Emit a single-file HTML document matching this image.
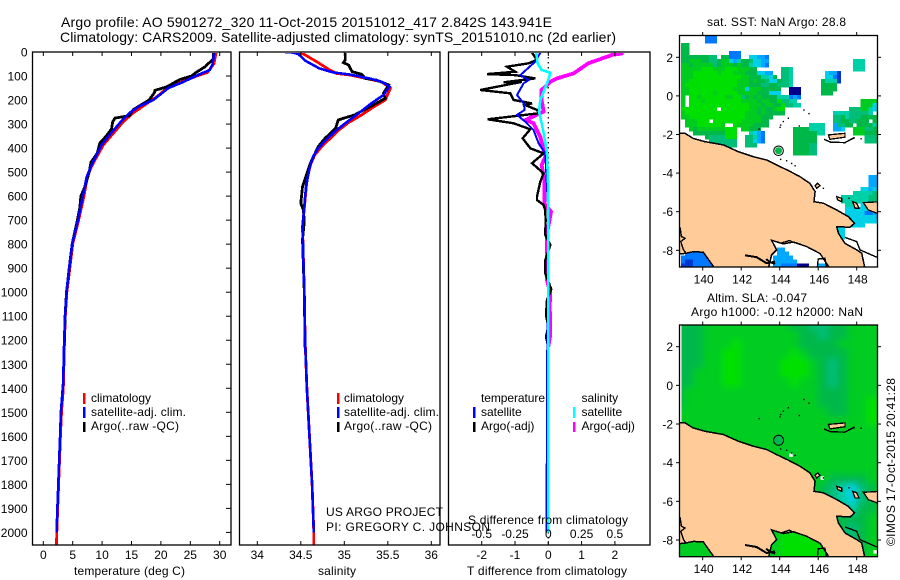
<!DOCTYPE html>
<html>
<head>
<meta charset="utf-8">
<title>Argo profile</title>
<style>
html,body{margin:0;padding:0;background:#fff;}
svg{display:block;}
text{font-family:"Liberation Sans",sans-serif;font-size:12px;fill:#000;}
</style>
</head>
<body>
<svg id="fig" xmlns="http://www.w3.org/2000/svg" width="900" height="580" viewBox="0 0 900 580">
  <defs>
    <clipPath id="clipTemp"><rect x="33" y="53" width="198" height="492"/></clipPath>
    <clipPath id="clipSal"><rect x="240" y="53" width="200" height="492"/></clipPath>
    <clipPath id="clipDiff"><rect x="449" y="53" width="201" height="492"/></clipPath>
    <clipPath id="clipMap1"><rect x="679.5" y="35.5" width="198" height="231.5"/></clipPath>
    <clipPath id="clipMap2"><rect x="679.5" y="325" width="198" height="231.5"/></clipPath>
    <filter id="slaBlur" x="-5%" y="-5%" width="110%" height="110%"><feGaussianBlur stdDeviation="3.5"/></filter>
  </defs>
  <rect x="0" y="0" width="900" height="580" fill="#fff"/>
  <text x="61" y="27" font-size="14" style="font-size:14px" textLength="491" lengthAdjust="spacing">Argo profile: AO 5901272_320 11-Oct-2015 20151012_417 2.842S 143.941E</text>
  <text x="60" y="42" font-size="14" style="font-size:14px" textLength="556" lengthAdjust="spacing">Climatology: CARS2009. Satellite-adjusted climatology: synTS_20151010.nc (2d earlier)</text>
  <g id="panels"></g>
  <text x="74" y="575" textLength="111" lengthAdjust="spacing">temperature (deg C)</text>
  <text x="318" y="575" textLength="38" lengthAdjust="spacing">salinity</text>
  <text x="467" y="575" textLength="160" lengthAdjust="spacing">T difference from climatology</text>
  <text x="468" y="524" textLength="160" lengthAdjust="spacing">S difference from climatology</text>
  <text x="326" y="516" textLength="117" lengthAdjust="spacing">US ARGO PROJECT</text>
  <text x="326" y="531" textLength="164" lengthAdjust="spacing">PI: GREGORY C. JOHNSON</text>

  <g>
    <rect x="83" y="393" width="2.5" height="11" fill="#f00"/>
    <rect x="83" y="407" width="2.5" height="11" fill="#00f"/>
    <rect x="83" y="422" width="2.5" height="10" fill="#000"/>
    <text x="91" y="402">climatology</text>
    <text x="91" y="416" textLength="95" lengthAdjust="spacing">satellite-adj. clim.</text>
    <text x="91" y="430" textLength="88" lengthAdjust="spacing">Argo(..raw -QC)</text>
  </g>
  <g>
    <rect x="337" y="393" width="2.5" height="11" fill="#f00"/>
    <rect x="337" y="407" width="2.5" height="11" fill="#00f"/>
    <rect x="337" y="422" width="2.5" height="10" fill="#000"/>
    <text x="344" y="402">climatology</text>
    <text x="344" y="416" textLength="95" lengthAdjust="spacing">satellite-adj. clim.</text>
    <text x="344" y="430" textLength="88" lengthAdjust="spacing">Argo(..raw -QC)</text>
  </g>
  <g>
    <text x="481" y="402" textLength="64" lengthAdjust="spacing">temperature</text>
    <text x="481" y="416">satellite</text>
    <text x="481" y="430">Argo(-adj)</text>
    <rect x="473" y="407" width="2.5" height="11" fill="#00f"/>
    <rect x="473" y="422" width="2.5" height="10" fill="#000"/>
    <text x="581.5" y="402">salinity</text>
    <text x="581.5" y="416">satellite</text>
    <text x="581.5" y="430">Argo(-adj)</text>
    <rect x="573" y="407" width="2.5" height="11" fill="#0ff"/>
    <rect x="573" y="422" width="2.5" height="10" fill="#f0f"/>
  </g>

  <g id="maps"></g>
  <text x="707" y="26" textLength="139" lengthAdjust="spacing">sat. SST: NaN  Argo: 28.8</text>
  <text x="707" y="302" textLength="100" lengthAdjust="spacing">Altim. SLA: -0.047</text>
  <text x="691" y="316" textLength="172" lengthAdjust="spacing">Argo h1000: -0.12 h2000: NaN</text>
  <text transform="translate(895,546) rotate(-90)" textLength="168" lengthAdjust="spacing">©IMOS 17-Oct-2015 20:41:28</text>
</svg>
<script>
/* ---------- depth profiles ---------- */
var depthTicks = [0,100,200,300,400,500,600,700,800,900,1000,1100,1200,1300,1400,1500,1600,1700,1800,1900,2000];
var tempTicks = [0,5,10,15,20,25,30];
var salTicks = [34,34.5,35,35.5,36];
var salTickLabels = ['34','34.5','35','35.5','36'];
var diffTTicks = [-2,-1,0,1,2];
var diffTTickLabels = ['-2','-1','0','1','2'];
var diffSTicks = [-0.5,-0.25,0,0.25,0.5];
var diffSTickLabels = ['-0.5','-0.25','0','0.25','0.5'];

var tempClimDepth = [0,50,85,100,125,150,175,186,225,253,290,339,387,436,477,519,602,700,800,900,1000,1100,1200,1300,1400,1500,1600,1700,1800,1900,2000,2050];
var tempClimValue = [29.4,29.0,27.9,26.1,23.5,21.0,19.9,19.3,17.0,15.3,13.6,11.9,10.2,9.1,8.2,7.5,6.9,6.0,5.0,4.5,4.0,3.75,3.6,3.5,3.4,3.1,2.9,2.75,2.6,2.45,2.3,2.25];
var tempSatDepth = [0,50,75,100,125,150,175,200,225,253,290,339,387,436,477,519,602,700,800,900,1000,1100,1200,1300,1370,1500,1600,1700,1800,1900,2000];
var tempSatValue = [29.1,28.8,28.3,25.9,23.8,21.3,20.0,18.7,16.4,14.7,13.2,11.5,9.9,8.9,8.1,7.4,6.7,5.9,4.9,4.4,3.95,3.7,3.55,3.45,3.4,3.0,2.85,2.7,2.55,2.4,2.27];
var tempArgoDepth = [0,30,50,60,85,100,115,145,160,170,200,240,265,275,290,320,350,380,420,460,500,560,600,650,700,800,900,1000,1100,1230];
var tempArgoValue = [28.9,28.9,28.0,27.6,26.0,25.2,23.2,21.0,19.0,18.9,18.0,15.3,14.6,12.2,11.8,11.6,10.7,9.6,9.2,8.1,7.8,7.1,6.4,6.2,5.8,4.9,4.4,3.95,3.7,3.55];

var salClimDepth = [0,12,40,72,89,96,114,124,151,200,228,262,294,327,359,394,429,470,533,616,727,1000,1200,1400,1600,1800,2000,2050];
var salClimValue = [34.47,34.55,34.68,34.82,34.91,35.07,35.30,35.43,35.53,35.47,35.34,35.20,35.05,34.93,34.84,34.74,34.66,34.61,34.57,34.55,34.52,34.54,34.55,34.57,34.60,34.63,34.65,34.65];
var salSatDepth = [0,2,8,36,68,85,94,111,124,144,179,214,262,297,332,362,401,436,484,561,644,727,1000,1200,1400,1600,1800,2000];
var salSatValue = [34.32,34.40,34.47,34.55,34.71,34.87,35.07,35.30,35.43,35.52,35.45,35.31,35.14,35.01,34.89,34.80,34.70,34.64,34.60,34.56,34.54,34.52,34.54,34.55,34.57,34.60,34.63,34.65];
var salArgoDepth = [0,33,44,54,82,93,110,117,137,172,193,221,262,276,283,318,359,394,463,505,561,630,658,706,780,1000,1230];
var salArgoValue = [35.01,35.01,34.99,35.05,35.09,35.20,35.24,35.37,35.51,35.45,35.47,35.33,35.12,34.99,34.93,34.90,34.78,34.70,34.61,34.57,34.52,34.50,34.53,34.54,34.52,34.54,34.55];

var diffTArgoDepth = [3,33,47,61,82,92,96,110,126,124,158,172,200,214,221,241,255,280,297,322,359,401,422,463,505,540,602,616,637,658,700,762,803,866,922,988,1032,1095,1144,1185,1230];
var diffTArgoValue = [-0.49,-0.34,-0.59,-1.24,-0.99,-1.84,-0.99,-0.39,-1.34,-0.79,-2.04,-1.14,-1.04,-0.49,-0.69,-0.34,-0.29,-1.82,-1.04,-0.54,-0.77,-0.54,-0.14,-0.49,-0.14,-0.24,-0.34,-0.34,-0.14,-0.09,-0.08,-0.09,0.06,-0.09,-0.09,0.09,-0.04,-0.07,0,-0.07,0];
var diffTSatDepth = [3,40,96,117,130,179,214,241,262,290,325,380,422,505,644,1000,1300,2000];
var diffTSatValue = [-0.24,-0.39,-0.84,-0.59,-0.74,-0.94,-0.74,-0.71,-0.94,-0.69,-0.44,-0.29,-0.09,-0.06,-0.01,0,-0.04,-0.05];
var diffSSatDepth = [3,47,75,86,117,144,200,248,297,352,422,575,1000,2000];
var diffSSatValue = [-0.09,-0.08,-0.05,0.015,0,-0.02,-0.06,-0.07,-0.05,-0.03,-0.01,0,0,0];
var diffSArgoDepth = [5,12,47,89,110,124,158,200,248,283,297,352,408,436,470,533,630,665,727,755,950,1005,1060,1116,1178,1227];
var diffSArgoValue = [0.565,0.48,0.30,0.19,0.065,0.015,-0.05,-0.05,-0.035,-0.17,-0.11,-0.06,-0.035,-0.02,-0.05,-0.03,-0.03,0.02,0,-0.01,-0.01,0.015,0.01,0.015,0.015,0];

/* ---------- map data (lon/lat degrees, colour levels 0-9) ---------- */
var mapLonTicks = [140,142,144,146,148];
var mapLatTicks = [2,0,-2,-4,-6,-8];
var mapLatTickLabels = ['2','0','-2','-4','-6','-8'];
var argoLon = 143.941;
var argoLat = -2.842;

var coastLon = [138.5,138.82,139.08,139.5,140.1,141.07,141.85,142.63,143.32,143.84,144.45,145.05,145.57,145.84,145.78,146.27,146.96,147.57,147.88,147.65,146.96,147.05,147.39,148.0,148.26,148.43,146.61,146.10,145.40,144.71,144.19,143.58,143.84,143.58,143.41,140.64,140.03,139.52,139.08,138.79,138.5];
var coastLat = [-1.94,-1.94,-1.94,-2.2,-2.37,-2.54,-2.89,-3.15,-3.32,-3.58,-3.87,-4.18,-4.53,-4.96,-5.48,-5.56,-5.91,-6.26,-6.6,-6.81,-6.77,-7.12,-7.64,-7.98,-8.15,-8.95,-8.95,-8.17,-7.81,-7.57,-7.67,-7.48,-7.98,-8.24,-8.95,-8.95,-8.10,-8.07,-8.16,-8.19,-8.19];
var islandLons = [[146.53,147.39,147.39,146.61],[145.84,145.97,146.1,145.92],[146.96,147.22,147.22,147.01],[147.79,148,148.12,147.91],[148.35,149.3,149.3,148.6]];
var islandLats = [[-2.02,-1.94,-2.14,-2.25],[-4.65,-4.53,-4.65,-4.79],[-5.22,-5.31,-5.48,-5.39],[-5.48,-5.56,-5.82,-5.82],[-5.53,-5.48,-6.17,-5.91]];
var riverLons = [[142.2,142.8,143.32,143.76],[143.3,143.5,143.76],[138.82,138.9,139.08,138.86,139,139.13],[147.39,148,148.17,149.04],[146.3,146.65,147.39,147.9],[145.95,146.0,146.35,146.45],[144.1,144.5,144.8]];
var riverLats = [[-8.26,-8.36,-8.67,-8.59],[-8.45,-8.62,-8.7],[-6.81,-7.29,-7.38,-7.55,-7.98,-8.15],[-7.33,-7.55,-7.98,-8.36],[-2.25,-2.4,-2.42,-2.15],[-8.95,-8.45,-8.42,-8.95],[-7.62,-7.5,-7.62]];
var speckLon = [145.26,145.52,144.45,144.19,144.05,144.02,145.02,144.62,144.80,144.36,144.05,146.27,147.60,148.23,142.93,147.6,147.85];
var speckLat = [-0.73,-0.92,-1.16,-1.33,-1.51,-1.63,-1.56,-3.50,-3.62,-3.36,-3.29,-4.79,-5.30,-2.22,-1.72,-2.3,-2.2];

var sstGridLon0 = 138.665;
var sstGridLat0 = 3.155;
var sstGridStep = 0.2075;
/* [row, first column, colour level of each successive cell] */
var sstRuns = [
[0,7,"222"],[1,7,"222"],[2,1,"77"],[3,1,"77"],[4,1,"77"],[4,13,"222"],
[5,1,"777777766"],[5,11,"77222"],[5,18,"44332"],
[6,1,"7788877667884357764433"],[6,44,"555"],
[7,1,"8878888867888787754432"],[7,44,"555"],
[8,1,"8888899988899988877"],[8,26,"665"],[8,44,"555"],
[9,1,"8889999998999888777"],[9,20,"4433"],[9,26,"665"],[9,37,"4331"],
[10,1,"8889999999999998877"],[10,20,"75547"],[10,26,"665"],[10,37,"4421"],
[11,1,"88999999999999888787"],[11,21,"7644"],[11,25,"7"],[11,26,"665"],[11,36,"75551"],
[12,1,"8999999999999988877"],[12,20,"766776"],[12,26,"665"],[12,36,"7777"],
[13,1,"8899999999999888"],[13,17,"4"],[13,18,"88877777"],[13,28,"000"],[13,36,"7777"],
[14,1,"88999999899999888"],[14,18,"88777444"],[14,28,"000"],[14,36,"777"],
[15,1,"8"],[15,3,"99899999988996787877775"],[15,26,"55232"],[15,0,""],
[16,1,"8"],[16,3,"9998999999999888878877"],[16,25,"96655"],[16,46,"8888"],
[17,1,"8"],[17,3,"999999999999999888788779"],[17,27,"6655"],[17,46,"888"],[17,49,"44"],
[18,1,"999999999"],[18,11,"9999999887877887"],[18,27,""],[18,25,"99"],[18,43,"66688544"],
[19,1,"89999999999999998887877777"],[19,39,"5555666665 54"],
[20,1,"88999999999999998888777"],[20,39,"66756667777777"],
[21,2,"888999"],[21,9,"99999998888877"],[21,39,"667766777 7657"],
[22,2,"8889999998"],[22,14,"988887777"],[22,33,"5555"],[22,39,"36677"],[22,45,"777757"],
[23,3,"878888888"],[23,12,"999"],[23,16,"88777"],[23,29,"7777"],[23,33,"5555"],[23,39,"334"],[23,44,"888667 7"],
[24,4,"77777777"],[24,12,"999"],[24,18,"5432"],[24,29,"7777"],[24,33,"7755"],[24,44,"8887777"],
[25,7,"76666"],[25,12,"999"],[25,17,"66532"],[25,29,"777777"],[25,47,"666"],
[26,8,"6666666"],[26,17,"66432"],[26,29,"777777"],[26,47,"666"],
[27,10,"66666"],[27,17,"666"],[27,29,"777766"],
[28,29,"777766"],[29,29,"777766"],
[35,48,"333"],[36,48,"333"],[37,48,"333"],
[38,46,"44343"],[39,44,"5555566"],[39,49,"66"],
[40,41,"5555555666666"],[41,41,"5555555666666"],
[42,42,"555"],[42,46,"4433"],[43,42,"4444"],[43,46,"44333"],
[44,42,"44444"],[44,47,"2233"],[45,42,"44444"],[45,47,"4442"],
[46,42,"44444"],[46,47,"4444"],[47,43,"4444"],[48,40,"44"],[49,40,"44"],[50,40,"44"],
[53,25,"33"],[54,2,"22222"],[54,25,"333"],
[55,1,"2222222"],[55,24,"33333"],
[56,1,"21122222"],[56,24,"333333"],
[57,1,"111222222"],[57,24,"332222"],[57,30,"000"],[57,35,"333"],
[58,1,"1112222222"],[58,24,"332222"],[58,30,"000"],[58,35,"333"]
];

var slaGridLon0 = 138.5;
var slaGridLat0 = 3.4;
var slaGridStep = 0.5;
var slaRows = [
"7778888888887766778888","7778888888888776778888","7778889888888777788888",
"7778899888889877778888","7778899888899987678888","7788899888899987678888",
"7788899888889887678888","7888888888888887778888","7888888888888887778899",
"8888888888888888778899","8888888888888888888899","8888888888888888888888",
"8888888888888888888888","8888888888888888888888","8888888888888888888888",
"8888888888888888888888","8888888888888888777788","8888888888888887654678",
"8888888888888887654678","8888888888888888665778","8888888888888888777788",
"8888888888888888776788","8888888888899999766788","8888888888899999766788",
"8888888888899999766798","8888888888899999776798"
];
var slaSpeckLon = [144.57,146.2,148.95];
var slaSpeckLat = [-3.6,-4.78,-8.6];

/* ---------- colour scale ---------- */
var levelColors = ['#00008c','#0038d0','#0078ff','#00a8ff','#00d0e8','#00d0a8','#00be78','#00b848','#00cc20','#00e000'];

/* ---------- axis functions ---------- */
function depthY(d){ return 52 + d * 0.2402; }
function tempX(t){ return 43.3 + t * 5.88; }
function salX(s){ return 257.3 + (s - 34) * 87; }
function diffTX(t){ return 548.3 + t * 33.3; }
function diffSX(s){ return 548.3 + s * 133.2; }
function lonX(l){ return 702.7 + (l - 140) * 19.25; }
function latY1(l){ return 57.3 + (2 - l) * 19.3; }
function latY2(l){ return 346.7 + (2 - l) * 19.33; }

var NS = 'http://www.w3.org/2000/svg';
function mk(tag, parent, props){
  var el = document.createElementNS(NS, tag);
  for (var k in props) { el.setAttribute(k, props[k]); }
  parent.appendChild(el);
  return el;
}
function seriesPoints(xs, ys, xFn){
  var out = [];
  for (var i = 0; i < xs.length; i++) { out.push(xFn(xs[i]).toFixed(1) + ',' + depthY(ys[i]).toFixed(1)); }
  return out.join(' ');
}
function geoPoints(lons, lats, yFn){
  var out = [];
  for (var i = 0; i < lons.length; i++) { out.push(lonX(lons[i]).toFixed(1) + ',' + yFn(lats[i]).toFixed(1)); }
  return out.join(' ');
}

var panels = document.getElementById('panels');
var maps = document.getElementById('maps');

function drawSeries(group, xFn, values, depths, color, width, name){
  var line = mk('polyline', group, {points: seriesPoints(values, depths, xFn), fill: 'none', stroke: color, 'stroke-width': width, 'stroke-linejoin': 'miter', 'shape-rendering': 'crispEdges'});
  
  
}

function drawFrame(x0, x1, name){
  var frame = mk('rect', panels, {x: x0, y: 52, width: x1 - x0, height: 493, fill: 'none', stroke: '#000', 'stroke-width': 1.3});
  
  
}

function drawXTicks(vals, labels, xFn, labelY, top, name){
  for (var i = 0; i < vals.length; i++) {
    var x = xFn(vals[i]);
    var tick = mk('line', panels, {x1: x, x2: x, y1: 545, y2: 541, stroke: '#000', 'stroke-width': 1});
    
    
    if (top) {
      var tickTop = mk('line', panels, {x1: x, x2: x, y1: 52, y2: 56, stroke: '#000', 'stroke-width': 1});
      
      
    }
    var lab = mk('text', panels, {x: x, y: labelY, 'text-anchor': 'middle'});
    lab.textContent = labels[i];
    
    
  }
}

/* temperature panel */
var gT = mk('g', panels, {'clip-path': 'url(#clipTemp)'});


drawSeries(gT, tempX, tempClimValue, tempClimDepth, '#f00', 2.8, 'temperature-climatology-line');
drawSeries(gT, tempX, tempArgoValue, tempArgoDepth, '#000', 2.8, 'temperature-argo-line');
drawSeries(gT, tempX, tempSatValue, tempSatDepth, '#00f', 2.6, 'temperature-satellite-line');

/* salinity panel */
var gS = mk('g', panels, {'clip-path': 'url(#clipSal)'});


drawSeries(gS, salX, salClimValue, salClimDepth, '#f00', 2.8, 'salinity-climatology-line');
drawSeries(gS, salX, salArgoValue, salArgoDepth, '#000', 2.8, 'salinity-argo-line');
drawSeries(gS, salX, salSatValue, salSatDepth, '#00f', 2.6, 'salinity-satellite-line');

/* difference panel */
var gD = mk('g', panels, {'clip-path': 'url(#clipDiff)'});


var zeroLine = mk('line', gD, {x1: diffTX(0), x2: diffTX(0), y1: depthY(0), y2: depthY(2050), stroke: '#000', 'stroke-width': 1.2, 'stroke-dasharray': '1.5 3.5'});


drawSeries(gD, diffSX, diffSArgoValue, diffSArgoDepth, '#f0f', 3.8, 's-difference-argo-line');
drawSeries(gD, diffTX, diffTArgoValue, diffTArgoDepth, '#000', 2.4, 't-difference-argo-line');
drawSeries(gD, diffTX, diffTSatValue, diffTSatDepth, '#00f', 2, 't-difference-satellite-line');
drawSeries(gD, diffSX, diffSSatValue, diffSSatDepth, '#0ff', 2.6, 's-difference-satellite-line');

drawFrame(32.5, 231, 'temperature-panel-frame');
drawFrame(239.5, 440, 'salinity-panel-frame');
drawFrame(448.5, 650, 'difference-panel-frame');

for (var di = 0; di < depthTicks.length; di++) {
  var dy = depthY(depthTicks[di]);
  var dl = mk('text', panels, {x: 27.5, y: dy + 4.5, 'text-anchor': 'end'});
  dl.textContent = String(depthTicks[di]);
  
  
  var dt = mk('line', panels, {x1: 226, x2: 231, y1: dy, y2: dy, stroke: '#000', 'stroke-width': 1});
  
  
}
drawXTicks(tempTicks, tempTicks.map(String), tempX, 559, true, 'temperature-axis');
drawXTicks(salTicks, salTickLabels, salX, 559, true, 'salinity-axis');
drawXTicks(diffTTicks, diffTTickLabels, diffTX, 559, true, 't-difference-axis');
for (var si = 0; si < diffSTicks.length; si++) {
  var sl = mk('text', panels, {x: diffSX(diffSTicks[si]), y: 538, 'text-anchor': 'middle'});
  sl.textContent = diffSTickLabels[si];
  
  
}

/* ---------- maps ---------- */
function drawLand(group, yFn){
  var land = mk('polygon', group, {points: geoPoints(coastLon, coastLat, yFn), fill: '#ffcc99', stroke: '#000', 'stroke-width': 1.5, 'shape-rendering': 'crispEdges'});
  
  
  for (var i = 0; i < islandLons.length; i++) {
    var isl = mk('polygon', group, {points: geoPoints(islandLons[i], islandLats[i], yFn), fill: '#ffcc99', stroke: '#000', 'stroke-width': 1.3, 'shape-rendering': 'crispEdges'});
    
    
  }
  for (var j = 0; j < riverLons.length; j++) {
    var riv = mk('polyline', group, {points: geoPoints(riverLons[j], riverLats[j], yFn), fill: 'none', stroke: '#000', 'stroke-width': j < 2 ? 2 : 1.4, 'shape-rendering': 'crispEdges'});
    
    
  }
  for (var k = 0; k < speckLon.length; k++) {
    var sp = mk('rect', group, {x: lonX(speckLon[k]) - 0.7, y: yFn(speckLat[k]) - 0.7, width: 1.4, height: 1.4, fill: '#000'});
    
    
  }
}
function drawMapAxes(top, bottom, yFn, name){
  var frame = mk('rect', maps, {x: 679.5, y: top, width: 198, height: bottom - top, fill: 'none', stroke: '#000', 'stroke-width': 1.3});
  
  
  for (var i = 0; i < mapLonTicks.length; i++) {
    var x = lonX(mapLonTicks[i]);
    var t1 = mk('line', maps, {x1: x, x2: x, y1: top - 3.5, y2: top, stroke: '#000', 'stroke-width': 1});
    
    
    var t2 = mk('line', maps, {x1: x, x2: x, y1: bottom, y2: bottom + 3.5, stroke: '#000', 'stroke-width': 1});
    
    
    var lab = mk('text', maps, {x: x + 1, y: bottom + 16.5, 'text-anchor': 'middle'});
    lab.textContent = String(mapLonTicks[i]);
    
    
  }
  for (var j = 0; j < mapLatTicks.length; j++) {
    var y = yFn(mapLatTicks[j]);
    var t3 = mk('line', maps, {x1: 676, x2: 679.5, y1: y, y2: y, stroke: '#000', 'stroke-width': 1});
    
    
    var t4 = mk('line', maps, {x1: 877.5, x2: 881, y1: y, y2: y, stroke: '#000', 'stroke-width': 1});
    
    
    var lab2 = mk('text', maps, {x: 673, y: y + 4.5, 'text-anchor': 'end'});
    lab2.textContent = mapLatTickLabels[j];
    
    
  }
}

/* SST map */
var m1 = mk('g', maps, {'clip-path': 'url(#clipMap1)'});


for (var ri = 0; ri < sstRuns.length; ri++) {
  var run = sstRuns[ri];
  for (var ci = 0; ci < run[2].length; ci++) {
    var ch = run[2].charAt(ci);
    if (ch === ' ') { continue; }
    var lonA = sstGridLon0 + (run[1] + ci) * sstGridStep;
    var latA = sstGridLat0 - run[0] * sstGridStep;
    var cell = mk('rect', m1, {x: lonX(lonA), y: latY1(latA), width: lonX(lonA + sstGridStep) - lonX(lonA) + 0.3, height: latY1(latA - sstGridStep) - latY1(latA) + 0.3, fill: levelColors[+ch], 'shape-rendering': 'crispEdges'});
    
    
  }
}
drawLand(m1, latY1);
var ring1 = mk('circle', m1, {cx: lonX(argoLon), cy: latY1(argoLat), r: 4.8, fill: '#fff', stroke: '#000', 'stroke-width': 1});


var dot1 = mk('circle', m1, {cx: lonX(argoLon), cy: latY1(argoLat), r: 3.5, fill: levelColors[7]});


drawMapAxes(35.5, 267, latY1, 'sst-map');

/* SLA map */
var m2 = mk('g', maps, {'clip-path': 'url(#clipMap2)'});


var seaBase = mk('rect', m2, {x: 681, y: 325, width: 198, height: 232, fill: '#00c828'});


var slaG = mk('g', m2, {filter: 'url(#slaBlur)'});


for (var r2 = 0; r2 < slaRows.length; r2++) {
  for (var c2 = 0; c2 < slaRows[r2].length; c2++) {
    var lon2 = slaGridLon0 + c2 * slaGridStep;
    var lat2 = slaGridLat0 - r2 * slaGridStep;
    var cell2 = mk('rect', slaG, {x: lonX(lon2), y: latY2(lat2), width: lonX(lon2 + slaGridStep) - lonX(lon2) + 0.5, height: latY2(lat2 - slaGridStep) - latY2(lat2) + 0.5, fill: levelColors[+slaRows[r2].charAt(c2)]});
    
    
  }
}
var strip = mk('rect', m2, {x: 679.5, y: 325, width: 2, height: 110, fill: '#fff'});


for (var w = 0; w < slaSpeckLon.length; w++) {
  var ws = mk('rect', m2, {x: lonX(slaSpeckLon[w]) - 1.5, y: latY2(slaSpeckLat[w]) - 1.5, width: 3.5, height: 3.5, fill: '#fff'});
  
  
}
drawLand(m2, latY2);
var ring2 = mk('circle', m2, {cx: lonX(argoLon), cy: latY2(argoLat), r: 5, fill: '#00b850', stroke: '#000', 'stroke-width': 1});


drawMapAxes(325, 556.7, latY2, 'sla-map');
</script>
</body>
</html>
